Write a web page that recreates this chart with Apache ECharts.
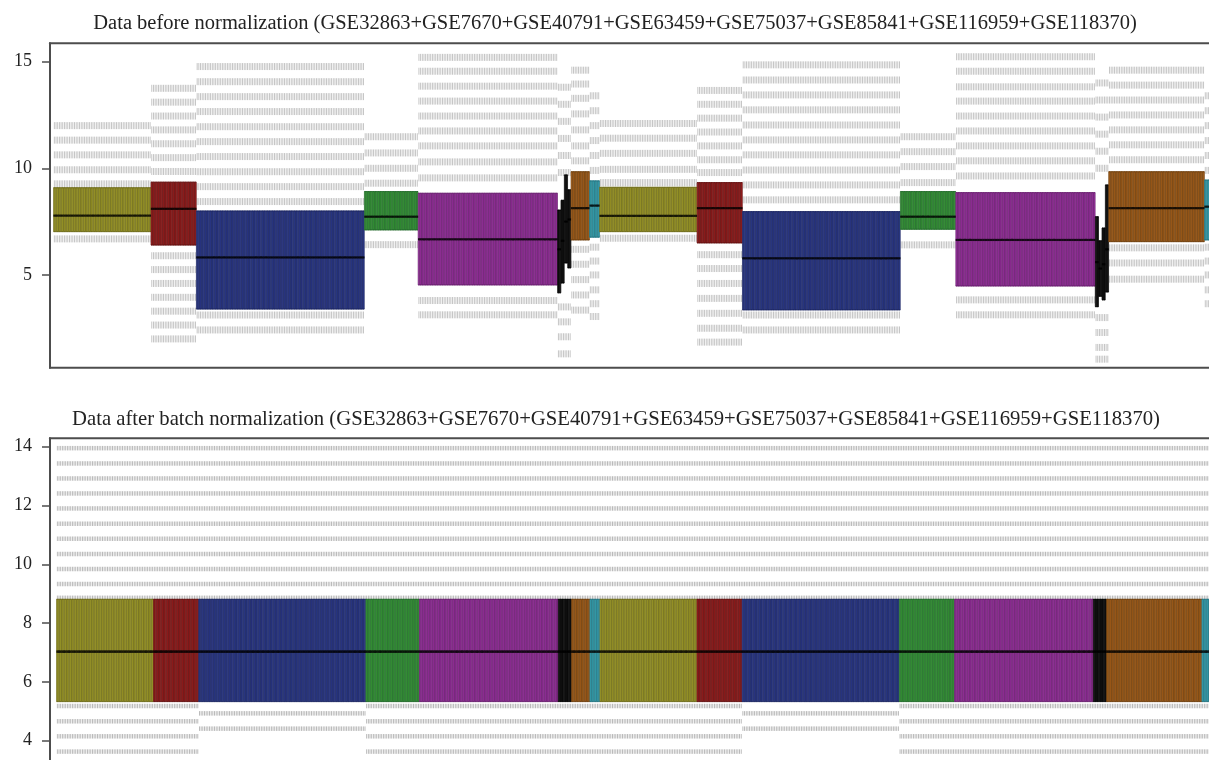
<!DOCTYPE html>
<html><head><meta charset="utf-8">
<script src="https://cdn.jsdelivr.net/npm/echarts@6/dist/echarts.min.js"></script>
<style>html,body{margin:0;padding:0;background:#fff;overflow:hidden;width:1209px;height:760px}#chart{width:1230px;height:800px}</style>
</head><body><div id="chart"></div>
<script>
// ---- batches (colour per GEO series) ----
const batchNames = ['GSE32863','GSE7670','GSE40791','GSE63459','GSE75037','GSE85841','GSE116959','GSE118370'];
const batchFill  = ['#a8a42e','#a02222','#2f3d90','#3c9e39','#9f35a5','#151515','#ad6520','#3caab8'];
const batchEdge  = ['#6b6818','#621010','#1b2560','#21682a','#671e6d','#000000','#6d3d0b','#227280'];

// ---- sample runs in plot order (group 1 then group 2); black runs split in 4 ----
const segBatch = [0,1,2,3,4,5,5,5,5,6,7, 0,1,2,3,4,5,5,5,5,6,7];
const segSize  = [58,27,100,32,83,2,2,2,2,11,6, 58,27,94,33,83,2,2,2,2,57,6];

// ---- before normalization: box statistics per run ----
const beforeQ1     = [7.03,6.40,3.40,7.11,4.53,4.16,4.62,5.56,5.33,6.64,6.77, 7.03,6.50,3.36,7.14,4.48,3.51,4.00,3.83,4.20,6.56,6.64];
const beforeMedian = [7.78,8.10,5.82,7.73,6.67,6.20,6.60,7.50,7.60,8.13,8.25, 7.77,8.13,5.78,7.73,6.64,5.60,5.30,5.50,6.20,8.13,8.20];
const beforeQ3     = [9.09,9.35,8.00,8.91,8.83,8.04,8.50,9.69,8.99,9.84,9.41, 9.11,9.33,7.97,8.91,8.86,7.73,6.60,7.20,9.22,9.84,9.45];
// outlier rows (values) above and below the boxes, per run
const blackUp1 = [9.8,10.6,11.4,12.2,13.0,13.8];
const blackLo1 = [3.5,2.8,2.1,1.3];
const blackUp2 = [10.0,10.8,11.6,12.4,13.2,14.0];
const blackLo2 = [3.0,2.3,1.6,1.05];
const beforeUpper = [
  [12.0,11.32,10.63,9.93,9.27],
  [13.75,13.1,12.45,11.8,11.15,10.5,9.85],
  [14.77,14.06,13.36,12.66,11.95,11.25,10.55,9.84,9.14,8.44],
  [11.48,10.72,10.0,9.3],
  [15.2,14.55,13.85,13.15,12.45,11.75,11.05,10.3,9.55],
  blackUp1, blackUp1, blackUp1, blackUp1,
  [14.6,13.95,13.28,12.55,11.8,11.05,10.35],
  [13.4,12.7,12.0,11.3,10.6,9.9],
  [12.1,11.41,10.7,9.95,9.33],
  [13.65,13.0,12.35,11.7,11.05,10.4,9.8],
  [14.85,14.14,13.44,12.74,12.03,11.33,10.63,9.92,9.22,8.52],
  [11.48,10.78,10.08,9.33],
  [15.23,14.55,13.82,13.15,12.45,11.75,11.05,10.35,9.64],
  blackUp2, blackUp2, blackUp2, blackUp2,
  [14.6,13.9,13.2,12.5,11.8,11.1,10.4],
  [13.4,12.7,12.0,11.3,10.6,9.9]
];
const beforeLower = [
  [6.69],
  [5.9,5.25,4.6,3.95,3.3,2.65,2.0],
  [3.12,2.42],
  [6.42],
  [3.8,3.13],
  blackLo1, blackLo1, blackLo1, blackLo1,
  [6.2,5.5,4.78,4.06,3.35],
  [6.3,5.65,5.0,4.3,3.65,3.05],
  [6.72],
  [5.95,5.3,4.6,3.9,3.2,2.5,1.85],
  [3.12,2.42],
  [6.41],
  [3.83,3.13],
  blackLo2, blackLo2, blackLo2, blackLo2,
  [6.27,5.56,4.8],
  [6.3,5.65,5.0,4.3,3.65]
];

// ---- after batch normalization: per batch ----
const afterQ1     = [5.33,5.33,5.33,5.33,5.33,5.33,5.33,5.33];
const afterMedian = [7.03,7.03,7.03,7.03,7.03,7.03,7.03,7.03];
const afterQ3     = [8.81,8.81,8.81,8.81,8.81,8.81,8.81,8.81];
const afterUpperRows = [13.95,13.43,12.92,12.41,11.90,11.38,10.87,10.35,9.84,9.33,8.86];
const afterLowerStd  = [5.18,4.66,4.15,3.63,3.12];
const afterLowerBlue = [4.93,4.41];
const afterLower = [afterLowerStd,afterLowerStd,afterLowerBlue,afterLowerStd,afterLowerStd,afterLowerStd,afterLowerStd,afterLowerStd];

// ---- axis ticks ----
const topTicks = [5,10,15];
const bottomTicks = [4,6,8,10,12,14];

// ---- build series data ----
const sampleSeg = [];
segSize.forEach((n, s) => { for (let k = 0; k < n; k++) sampleSeg.push(s); });
const categories = sampleSeg.map((s, i) => batchNames[segBatch[s]] + '_' + (i + 1));

function style(b) { return { color: batchFill[b], borderColor: batchEdge[b] }; }

const topBoxes = sampleSeg.map(s => ({
  value: [beforeQ1[s], beforeQ1[s], beforeMedian[s], beforeQ3[s], beforeQ3[s]],
  itemStyle: style(segBatch[s])
}));
const topMed = sampleSeg.map((s, i) => [i, beforeMedian[s]]);
const topOut = [];
sampleSeg.forEach((s, i) => {
  beforeUpper[s].forEach(v => topOut.push([i, v]));
  beforeLower[s].forEach(v => topOut.push([i, v]));
});

const botBoxes = sampleSeg.map(s => {
  const b = segBatch[s];
  return { value: [afterQ1[b], afterQ1[b], afterMedian[b], afterQ3[b], afterQ3[b]], itemStyle: style(b) };
});
const botMed = sampleSeg.map((s, i) => [i, afterMedian[segBatch[s]]]);
const botOut = [];
sampleSeg.forEach((s, i) => {
  const b = segBatch[s];
  afterUpperRows.forEach(v => botOut.push([i, v]));
  afterLower[b].forEach(v => botOut.push([i, v]));
});

const serif = 'Liberation Serif, DejaVu Serif, serif';
const frame = '#4d4d4d';

function yAx(min, max, offset, ticks, gi) {
  return {
    type: 'value', gridIndex: gi, min: min, max: max, offset: offset,
    axisLine: { show: true, lineStyle: { color: frame, width: 2 } },
    axisTick: { show: true, length: 8, customValues: ticks, lineStyle: { color: frame, width: 1.5 } },
    axisLabel: { customValues: ticks, margin: 18, fontFamily: serif, fontSize: 18, color: '#222' },
    splitLine: { show: false }
  };
}
function xAx(gi) {
  return { type: 'category', gridIndex: gi, data: categories, boundaryGap: true, show: false };
}

const chart = echarts.init(document.getElementById('chart'), null, { renderer: 'canvas' });
chart.setOption({
  animation: false,
  backgroundColor: '#fff',
  title: [
    { text: 'Data before normalization (GSE32863+GSE7670+GSE40791+GSE63459+GSE75037+GSE85841+GSE116959+GSE118370)',
      left: 610, top: 8, textAlign: 'center',
      textStyle: { fontFamily: serif, fontSize: 20.5, fontWeight: 'normal', color: '#222' } },
    { text: 'Data after batch normalization (GSE32863+GSE7670+GSE40791+GSE63459+GSE75037+GSE85841+GSE116959+GSE118370)',
      left: 611, top: 404, textAlign: 'center',
      textStyle: { fontFamily: serif, fontSize: 20.7, fontWeight: 'normal', color: '#222' } }
  ],
  grid: [
    { left: 53.5, top: 43.3, width: 1161, height: 324.4 },
    { left: 56.5, top: 438.3, width: 1155.4, height: 346.5 }
  ],
  xAxis: [xAx(0), xAx(1)],
  yAxis: [yAx(0.65, 15.86, 3.5, topTicks, 0), yAx(2.5, 14.286, 6.5, bottomTicks, 1)],
  graphic: [
    { type: 'line', shape: { x1: 49, y1: 43.3, x2: 1225, y2: 43.3 }, style: { stroke: frame, lineWidth: 2 }, silent: true },
    { type: 'line', shape: { x1: 49, y1: 367.7, x2: 1225, y2: 367.7 }, style: { stroke: frame, lineWidth: 2 }, silent: true },
    { type: 'line', shape: { x1: 49, y1: 438.3, x2: 1225, y2: 438.3 }, style: { stroke: frame, lineWidth: 2 }, silent: true }
  ],
  series: [
    { type: 'scatter', xAxisIndex: 0, yAxisIndex: 0, data: topOut, symbol: 'rect', symbolSize: [0.9, 7],
      itemStyle: { color: '#b0b0b0' }, large: true, largeThreshold: 500, progressive: 0, silent: true, z: 1 },
    { type: 'boxplot', xAxisIndex: 0, yAxisIndex: 0, data: topBoxes, boxWidth: ['90%', '90%'],
      itemStyle: { borderWidth: 0.7 }, silent: true, z: 2 },
    { type: 'scatter', xAxisIndex: 0, yAxisIndex: 0, data: topMed, symbol: 'rect', symbolSize: [1.9, 2.2],
      itemStyle: { color: '#000' }, progressive: 0, silent: true, z: 3 },
    { type: 'scatter', xAxisIndex: 1, yAxisIndex: 1, data: botOut, symbol: 'rect', symbolSize: [0.9, 4.5],
      itemStyle: { color: '#a0a0a0' }, large: true, largeThreshold: 500, progressive: 0, silent: true, z: 1 },
    { type: 'boxplot', xAxisIndex: 1, yAxisIndex: 1, data: botBoxes, boxWidth: ['90%', '90%'],
      itemStyle: { borderWidth: 0.7 }, silent: true, z: 2 },
    { type: 'scatter', xAxisIndex: 1, yAxisIndex: 1, data: botMed, symbol: 'rect', symbolSize: [1.9, 2.6],
      itemStyle: { color: '#000' }, progressive: 0, silent: true, z: 3 }
  ]
});
</script></body></html>
